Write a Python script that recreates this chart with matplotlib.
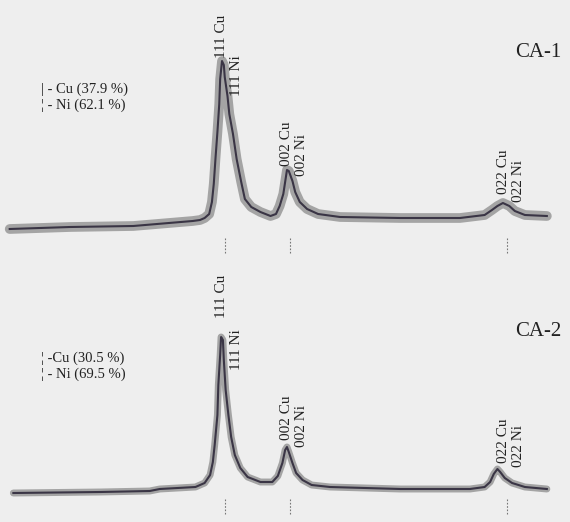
import matplotlib
matplotlib.use("Agg")
import matplotlib.pyplot as plt

# 2theta (deg) and intensity (a.u.)
tt_ca1 = [20.1, 26.7, 33.6, 40.1, 40.9, 41.4, 41.9, 42.2, 42.4, 42.6, 42.8, 43.0,
          43.1, 43.3, 43.5, 43.6, 43.9, 44.1, 44.5, 44.9, 45.4, 45.8, 46.5, 47.5,
          48.6, 49.2, 49.6, 50.0, 50.2, 50.4, 50.6, 51.0, 51.3, 51.8, 52.6, 53.8,
          56.2, 62.8, 69.3, 72.0, 72.8, 73.4, 74.0, 74.7, 75.3, 76.4, 78.8]
int_ca1 = [10, 12, 13, 18, 19, 21, 25, 37, 55, 82, 107, 135,
           160, 178, 174, 162, 143, 125, 105, 80, 57, 40, 32, 27,
           23, 25, 33, 45, 57, 69, 68, 58, 47, 37, 30, 25,
           22, 21, 21, 24, 29, 33, 36, 33, 28, 24, 23]

tt_ca2 = [20.5, 30.0, 35.4, 36.5, 40.4, 41.4, 42.0, 42.3, 42.5, 42.8, 42.9, 43.1,
          43.2, 43.4, 43.5, 43.7, 44.0, 44.3, 44.7, 45.3, 46.1, 47.5, 48.8, 49.4,
          49.9, 50.2, 50.4, 50.6, 51.0, 51.4, 52.1, 53.1, 55.1, 62.8, 70.4, 72.0,
          72.6, 73.0, 73.4, 73.7, 74.2, 75.0, 76.4, 78.8]
int_ca2 = [7, 8, 9, 11, 13, 17, 25, 38, 55, 85, 115, 145,
           163, 160, 140, 110, 85, 63, 45, 32, 23, 18, 18, 24,
           37, 50, 53, 48, 37, 27, 20, 15, 13, 11, 11, 13,
           18, 26, 31, 28, 22, 17, 13, 11]

# reflections of fcc Cu, Ni label shifted to the right
refl_cu = [43.3, 50.4, 74.1]
hkl = ["111", "002", "022"]

panels = [
    ("CA-1", tt_ca1, int_ca1, "| - Cu (37.9 %)", "¦ - Ni (62.1 %)"),
    ("CA-2", tt_ca2, int_ca2, "¦ -Cu (30.5 %)", "¦ - Ni (69.5 %)"),
]

serif = ["Liberation Serif", "DejaVu Serif"]
bg = "#eeeeee"
ink = "#222222"

fig = plt.figure(figsize=(5.70, 5.22), dpi=100, facecolor=bg)

# label heights (intensity units) for Cu / Ni labels in each panel
lab_cu = [[181, 73, 45], [182, 60, 37]]
lab_ni = [[143, 63, 37], [130, 53, 33]]
# name and legend rows, per panel (axes fraction)
name_y = [0.80, 0.73]
leg_y = [(0.659, 0.596), (0.628, 0.565)]
band_w = [7, 5]

for i, (name, tt, inten, cu_txt, ni_txt) in enumerate(panels):
    ax = fig.add_axes([0, 1 - (i + 1) * 0.5, 1, 0.5])
    ax.set_facecolor(bg)
    ax.set_xlim(19.04, 81.33)
    ax.set_ylim(-22, 239)
    ax.axis("off")

    ax.plot(tt, inten, color="#9c9c9c", lw=band_w[i], solid_joinstyle="round",
            solid_capstyle="round", alpha=0.9)
    ax.plot(tt, inten, color="#3a3545", lw=1.5, solid_joinstyle="round")

    for k in range(3):
        ax.vlines(refl_cu[k] + 0.3, -14, 2, color="#777777", lw=0.8,
                  linestyles=(0, (1.5, 1.5)))
        ax.text(refl_cu[k], lab_cu[i][k], hkl[k] + " Cu", rotation=90, ha="center",
                va="bottom", fontsize=11, family=serif, color=ink)
        ax.text(refl_cu[k] + 1.55, lab_ni[i][k], hkl[k] + " Ni", rotation=90,
                ha="center", va="bottom", fontsize=11, family=serif, color=ink)

    ax.text(0.985, name_y[i], name, transform=ax.transAxes, ha="right",
            va="center", fontsize=15, family=serif, color=ink)
    ax.text(0.072, leg_y[i][0], cu_txt, transform=ax.transAxes,
            ha="left", va="center", fontsize=10.5, family=serif, color=ink)
    ax.text(0.072, leg_y[i][1], ni_txt, transform=ax.transAxes,
            ha="left", va="center", fontsize=10.5, family=serif, color=ink)

fig.savefig("out.png", dpi=100, facecolor=bg)
